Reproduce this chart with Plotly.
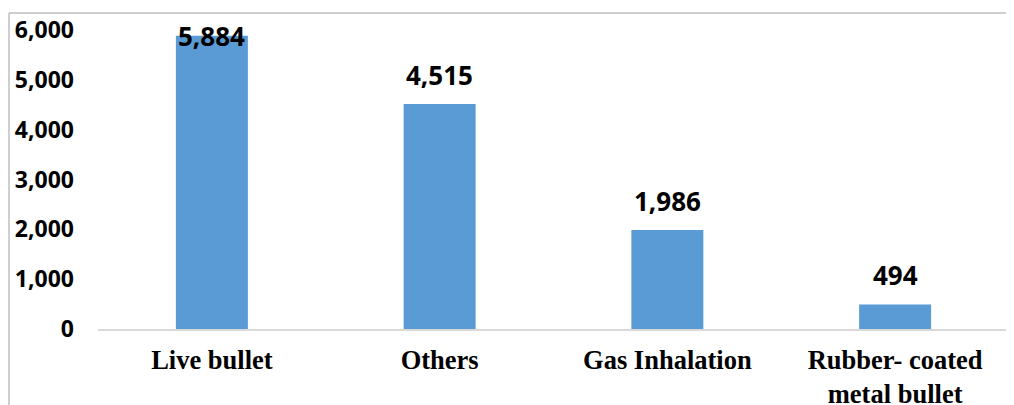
import plotly.graph_objects as go

categories = ["Live bullet", "Others", "Gas Inhalation", "Rubber- coated<br>metal bullet"]
values = [5884, 4515, 1986, 494]
y_ticks = [0, 1000, 2000, 3000, 4000, 5000, 6000]
y_tick_labels = ["0", "1,000", "2,000", "3,000", "4,000", "5,000", "6,000"]

# page body adds an 8px offset; figure sized to fill the remaining window
W, H = 1006, 397
ML, MR, MT, MB = 90, 5, 22, 76
YMAX = 6000
plot_h = H - MT - MB
plot_w = W - ML - MR
ppu = plot_h / YMAX

fig = go.Figure()
fig.add_trace(go.Bar(
    x=categories, y=values,
    marker=dict(color="#5B9BD5", line=dict(width=0)),
    width=0.316,
    hoverinfo="skip",
))

for c, v in zip(categories, values):
    shift = min(29, (YMAX - v) * ppu - 6)
    fig.add_annotation(
        x=c, y=v, text=f"{v:,}", showarrow=False,
        xref="x", yref="y", yanchor="middle", yshift=shift,
        font=dict(family="Open Sans", size=26, color="#000000", weight="bold"),
    )

# outer chart border (light gray), left and top edges
bx = -(ML - 1) / plot_w
by = 1 + (MT - 5) / plot_h
fig.add_shape(type="line", xref="paper", yref="paper",
              x0=bx, x1=1 + MR / plot_w, y0=by, y1=by,
              line=dict(color="#BFBFBF", width=1.5))
fig.add_shape(type="line", xref="paper", yref="paper",
              x0=bx, x1=bx, y0=by, y1=-MB / plot_h,
              line=dict(color="#BFBFBF", width=1.5))

fig.update_layout(
    width=W, height=H,
    margin=dict(l=ML, r=MR, t=MT, b=MB, pad=0, autoexpand=False),
    paper_bgcolor="white", plot_bgcolor="white",
    showlegend=False,
    bargap=0.684,
    xaxis=dict(
        automargin=False,
        showline=True, linecolor="#D9D9D9", linewidth=1.5,
        showgrid=False, zeroline=False, ticks="",
        tickfont=dict(family="Liberation Serif", size=26.5, color="#000000", weight="bold"),
        ticklabelstandoff=6,
    ),
    yaxis=dict(
        automargin=False,
        range=[0, YMAX], tickvals=y_ticks, ticktext=y_tick_labels,
        showline=False, showgrid=False, zeroline=False, ticks="",
        tickfont=dict(family="Open Sans", size=23, color="#000000", weight="bold"),
        ticklabelstandoff=23,
    ),
)

fig.write_html("out.html")
